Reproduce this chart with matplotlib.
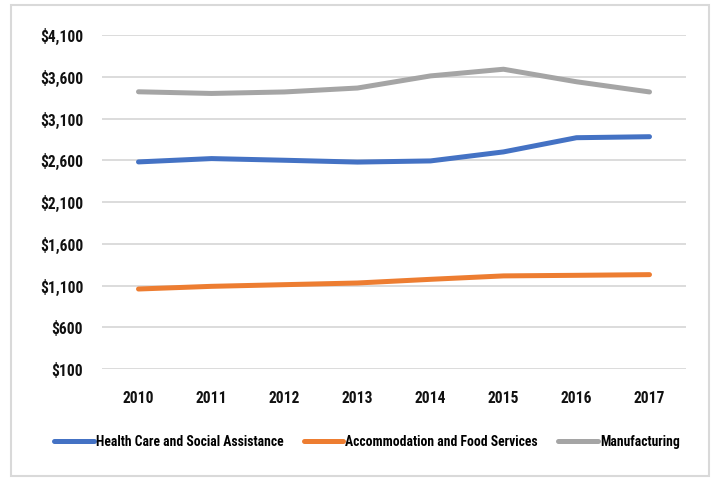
import matplotlib
matplotlib.use("Agg")
import matplotlib.pyplot as plt
from matplotlib.patches import Rectangle
from matplotlib.ticker import FuncFormatter
from matplotlib import font_manager as fm
import os

years = ["2010", "2011", "2012", "2013", "2014", "2015", "2016", "2017"]
health = [2580, 2620, 2600, 2578, 2592, 2700, 2870, 2882]
accommodation = [1058, 1090, 1110, 1130, 1174, 1215, 1222, 1230]
manufacturing = [3420, 3400, 3418, 3465, 3610, 3690, 3540, 3418]
series_names = ["Health Care and Social Assistance", "Accommodation and Food Services", "Manufacturing"]
yticks = [100, 600, 1100, 1600, 2100, 2600, 3100, 3600, 4100]

# pick a narrow bold (upright) font if available
font_path = None
prefs = ["LiberationSansNarrow-Bold", "RobotoCondensed-Bold", "Roboto-CondensedBold", "DejaVuSansCondensed-Bold"]
files = fm.findSystemFonts()
for p in prefs:
    for f in files:
        if os.path.splitext(os.path.basename(f))[0] == p:
            font_path = f
            break
    if font_path:
        break
narrow = font_path is not None

def fp(size):
    if narrow:
        return fm.FontProperties(fname=font_path, size=size)
    return fm.FontProperties(family='Liberation Sans', weight='bold', size=size)

fig = plt.figure(figsize=(7.19, 4.8), dpi=100)
fig.patches.append(Rectangle((11/719, 1-476/480), 698/719, 471/480, transform=fig.transFigure,
                             facecolor='none', edgecolor='#d9d9d9', linewidth=1.5, zorder=-1))
ax = fig.add_axes([102/719, 1-369/480, 584/719, 334/480])
ax.set_facecolor('none')

x = list(range(len(years)))
colors = ['#4472C4', '#ED7D31', '#A5A5A5']
for vals, name, c in zip([health, accommodation, manufacturing], series_names, colors):
    ax.plot(x, vals, color=c, linewidth=3.6, solid_capstyle='round', label=name, zorder=3)

ax.set_xlim(-0.5, len(years) - 0.5)
ax.set_ylim(100, 4100)
ax.set_yticks(yticks)
ax.yaxis.set_major_formatter(FuncFormatter(lambda v, p: "${:,.0f}".format(v)))
ax.set_xticks(x)
ax.set_xticklabels(years)
ax.grid(axis='y', color='#d9d9d9', linewidth=1.3)
ax.set_axisbelow(True)
for s in ax.spines.values():
    s.set_visible(False)
ax.tick_params(axis='both', length=0, labelcolor='#111111')
ax.tick_params(axis='y', pad=13.5)
ax.tick_params(axis='x', pad=15.5)
tick_size = 11.2 if narrow else 9
for lbl in ax.get_xticklabels() + ax.get_yticklabels():
    lbl.set_fontproperties(fp(tick_size))

leg_size = 9.8 if narrow else 7
leg = fig.legend(loc='center', bbox_to_anchor=(367/719, 1-442/480), ncol=3, frameon=False,
                 handlelength=2.9, handletextpad=0.15, columnspacing=1.5,
                 borderaxespad=0, borderpad=0, prop=fp(leg_size))
for line in leg.get_lines():
    line.set_linewidth(3.6)

fig.savefig("out.png", dpi=100)
